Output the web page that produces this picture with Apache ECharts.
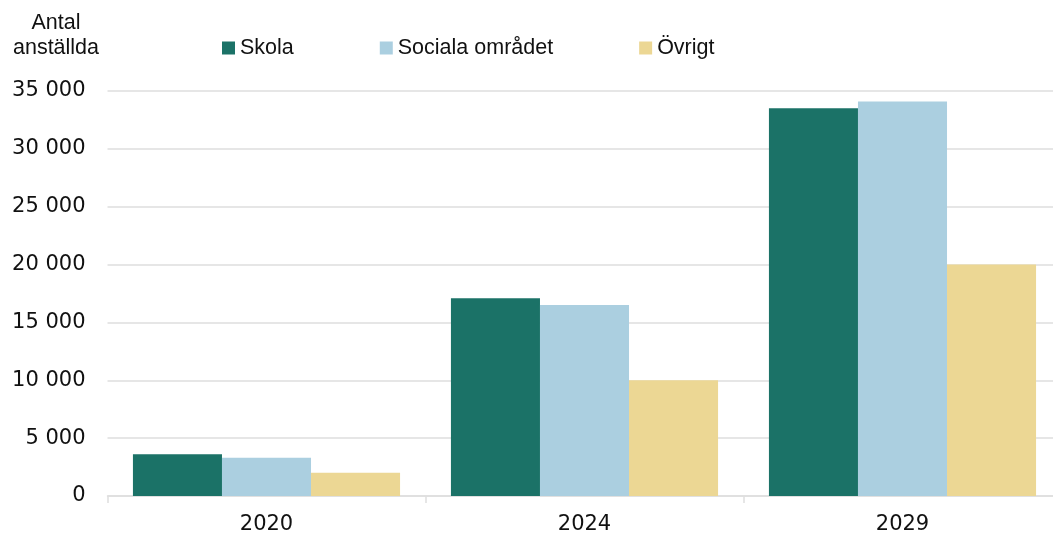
<!DOCTYPE html>
<html>
<head>
<meta charset="utf-8">
<script src="https://cdn.jsdelivr.net/npm/echarts@6/dist/echarts.min.js"></script>
<style>
  html, body { margin: 0; padding: 0; background: #fff; }
  #chart { width: 1053px; height: 536px; }
</style>
</head>
<body>
<div id="chart"></div>
<script>
// categories and series
const years = ['2020', '2024', '2029']
const skola = [3600, 17100, 33500]
const sociala = [3300, 16500, 34100]
const ovrigt = [2000, 10000, 20000]
const seriesNames = ['Skola', 'Sociala området', 'Övrigt']

const FONT = '"Liberation Sans", Arial, sans-serif'
const NUM_FONT = '"DejaVu Sans", sans-serif' // wider digits like the original
const GRID_COLOR = '#dedede'

const chart = echarts.init(document.getElementById('chart'))

chart.setOption({
  animation: false,
  textStyle: { fontFamily: FONT },
  color: ['#1b7267', '#abcfe0', '#ecd794'],
  // y axis title, two lines, centred above the labels
  title: {
    text: 'Antal\nanställda',
    left: 56,
    top: 11,
    padding: 0,
    textAlign: 'center',
    textStyle: {
      fontFamily: FONT,
      fontSize: 21.5,
      fontWeight: 'normal',
      color: '#111',
      lineHeight: 25
    }
  },
  legend: {
    data: seriesNames,
    left: 222,
    top: 37,
    padding: 0,
    itemWidth: 13,
    itemHeight: 13,
    itemGap: 86,
    icon: 'rect',
    textStyle: { fontFamily: FONT, fontSize: 21.5, color: '#111' }
  },
  // the last category runs a bit past the right edge of the picture
  grid: {
    left: 107.5,
    width: 954,
    top: 91,
    bottom: 40,
    containLabel: false,
    outerBoundsMode: 'none'
  },
  xAxis: {
    type: 'category',
    data: years,
    axisLine: { lineStyle: { color: GRID_COLOR, width: 1.5 } },
    axisTick: { show: true, length: 7, lineStyle: { color: GRID_COLOR, width: 1.5 } },
    axisLabel: { fontFamily: NUM_FONT, fontSize: 21, color: '#111', margin: 18 }
  },
  yAxis: {
    type: 'value',
    min: 0,
    max: 35000,
    interval: 5000,
    axisLine: { show: false },
    axisTick: { show: false },
    splitLine: { lineStyle: { color: GRID_COLOR, width: 1.5 } },
    axisLabel: {
      fontFamily: NUM_FONT,
      fontSize: 21,
      color: '#111',
      margin: 22,
      formatter: v => String(v).replace(/\B(?=(\d{3})+(?!\d))/g, ' ')
    }
  },
  series: [
    { name: seriesNames[0], type: 'bar', data: skola, barGap: '0%', barCategoryGap: '16%' },
    { name: seriesNames[1], type: 'bar', data: sociala, barGap: '0%', barCategoryGap: '16%' },
    { name: seriesNames[2], type: 'bar', data: ovrigt, barGap: '0%', barCategoryGap: '16%' }
  ]
})
</script>
</body>
</html>
